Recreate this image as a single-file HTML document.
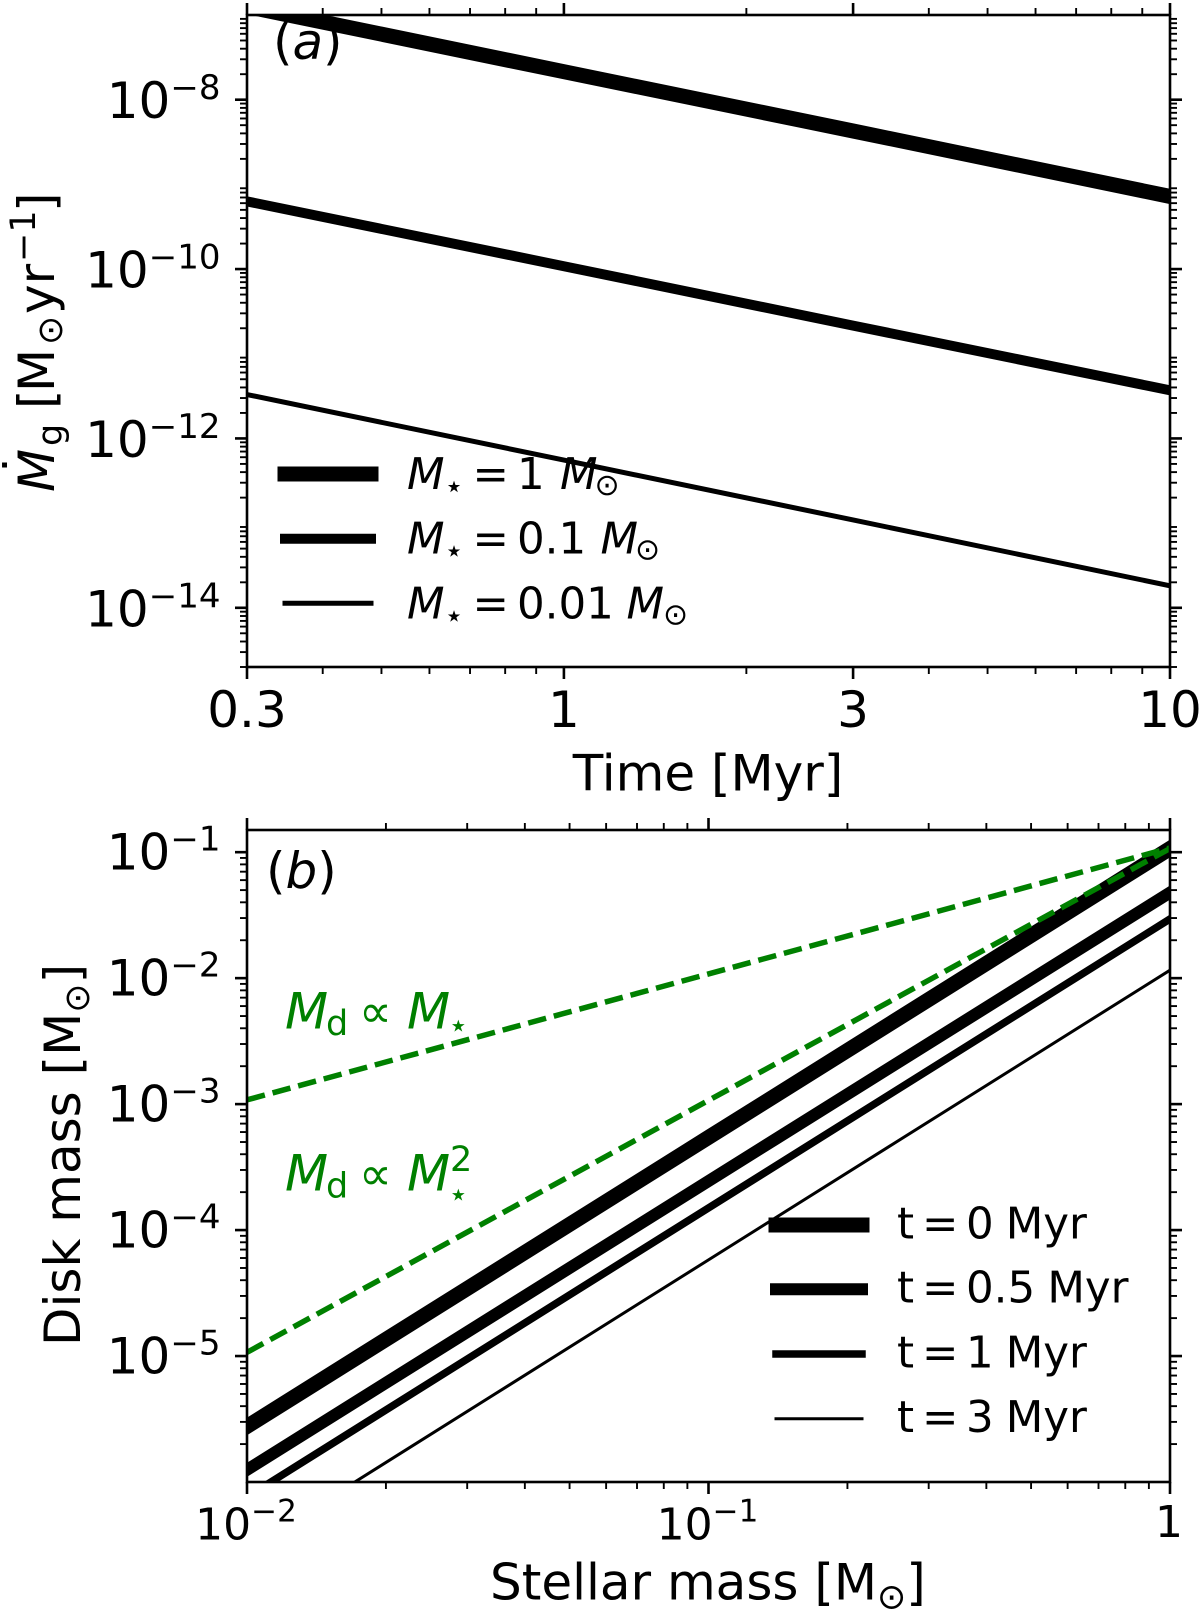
<!DOCTYPE html>
<html lang="en">
<head>
<meta charset="utf-8">
<title>Mass accretion rate and disk mass</title>
<style>
html,body{margin:0;padding:0;background:#fff;width:1200px;height:1610px;overflow:hidden}
svg{display:block}
text{font-family:"DejaVu Sans","Liberation Sans",sans-serif;fill:#000}
.leg{font-size:43.5px}
.it{font-style:italic}
.green,.green tspan{fill:#008000}
</style>
</head>
<body>
<svg id="figure" xmlns="http://www.w3.org/2000/svg" width="1200" height="1610" viewBox="0 0 1200 1610">
  <defs>
    <clipPath id="clip-a"><rect x="247" y="15" width="923" height="652"/></clipPath>
    <clipPath id="clip-b"><rect x="247" y="830" width="923" height="652"/></clipPath>
  </defs>
  <rect x="0" y="0" width="1200" height="1610" fill="#fff"/>

  <g id="panel-a">
    <g id="series-a" clip-path="url(#clip-a)"></g>
    <g id="ticks-a"></g>
    <rect x="247" y="15" width="923" height="652" fill="none" stroke="#000" stroke-width="2.6"/>
    <text font-size="50"><tspan x="273" y="59">(</tspan><tspan class="it" x="292.5" y="59">a</tspan><tspan x="323" y="59">)</tspan></text>
    <g id="legend-a">
      <text class="leg" y="489"><tspan class="it" x="407">M</tspan><tspan x="444" y="497" font-size="32">⋆</tspan><tspan x="472.5" y="489">=</tspan><tspan x="517" y="489">1</tspan><tspan class="it" x="560" y="489">M</tspan><tspan x="594.5" y="495" font-size="30">⊙</tspan></text>
      <text class="leg" y="553.7"><tspan class="it" x="407">M</tspan><tspan x="444" y="561.7" font-size="32">⋆</tspan><tspan x="472.5" y="553.7">=</tspan><tspan x="517" y="553.7">0.1</tspan><tspan class="it" x="600.5" y="553.7">M</tspan><tspan x="635" y="559.7" font-size="30">⊙</tspan></text>
      <text class="leg" y="618.3"><tspan class="it" x="407">M</tspan><tspan x="444" y="626.3" font-size="32">⋆</tspan><tspan x="472.5" y="618.3">=</tspan><tspan x="517" y="618.3">0.01</tspan><tspan class="it" x="626.5" y="618.3">M</tspan><tspan x="663" y="624.3" font-size="30">⊙</tspan></text>
    </g>
    <text x="708" y="790.7" font-size="50" text-anchor="middle">Time [Myr]</text>
    <g transform="translate(54,490) rotate(-90)">
      <text font-size="50"><tspan class="it" x="-2" y="0">M</tspan><tspan x="12.5" y="-14">˙</tspan><tspan x="44" y="8" font-size="35">g</tspan><tspan x="81" y="0">[</tspan><tspan x="98" y="0">M</tspan><tspan x="145" y="8" font-size="35">⊙</tspan><tspan x="176" y="0">y</tspan><tspan x="205.6" y="0">r</tspan><tspan x="228" y="-19" font-size="35">−1</tspan><tspan x="278" y="0">]</tspan></text>
    </g>
  </g>

  <g id="panel-b">
    <g id="series-b" clip-path="url(#clip-b)"></g>
    <g id="ticks-b"></g>
    <rect x="247" y="830" width="923" height="652" fill="none" stroke="#000" stroke-width="2.6"/>
    <text font-size="50"><tspan x="266" y="888">(</tspan><tspan class="it" x="285.5" y="888">b</tspan><tspan x="317.2" y="888">)</tspan></text>
    <text class="green" font-size="50"><tspan class="it" x="285" y="1028.3">M</tspan><tspan x="326" y="1035" font-size="35">d</tspan><tspan x="359" y="1027" font-size="46">∝</tspan><tspan class="it" x="407" y="1028.3">M</tspan><tspan x="448" y="1036.5" font-size="33">⋆</tspan></text>
    <text class="green" font-size="50"><tspan class="it" x="285" y="1190.7">M</tspan><tspan x="326" y="1197.4" font-size="35">d</tspan><tspan x="359" y="1189.4" font-size="46">∝</tspan><tspan class="it" x="407" y="1190.7">M</tspan><tspan x="450" y="1171" font-size="35">2</tspan><tspan x="448" y="1205.5" font-size="33">⋆</tspan></text>
    <g id="legend-b">
      <text class="leg"><tspan x="897" y="1238.3">t</tspan><tspan x="922" y="1238.3">=</tspan><tspan x="966" y="1238.3">0</tspan><tspan x="1005.7" y="1238.3">Myr</tspan></text>
      <text class="leg"><tspan x="897" y="1302.7">t</tspan><tspan x="922" y="1302.7">=</tspan><tspan x="966" y="1302.7">0.5</tspan><tspan x="1047.4" y="1302.7">Myr</tspan></text>
      <text class="leg"><tspan x="897" y="1367.3">t</tspan><tspan x="922" y="1367.3">=</tspan><tspan x="966" y="1367.3">1</tspan><tspan x="1005.7" y="1367.3">Myr</tspan></text>
      <text class="leg"><tspan x="897" y="1432">t</tspan><tspan x="922" y="1432">=</tspan><tspan x="966" y="1432">3</tspan><tspan x="1005.7" y="1432">Myr</tspan></text>
    </g>
    <text font-size="50" x="490" y="1599.3">Stellar mass [M<tspan font-size="35" dy="9">⊙</tspan><tspan dy="-9">]</tspan></text>
    <g transform="translate(80,1346) rotate(-90)">
      <text font-size="50" x="0" y="0">Disk mass [M<tspan font-size="35" dy="9">⊙</tspan><tspan dy="-9">]</tspan></text>
    </g>
  </g>
</svg>
<script>
// Panel (a): accretion rate vs time
const timeValues = [0.3, 1, 3, 10];
const accretionStar1 = [1.26e-7, 2.14e-8, 4.27e-9, 7.2e-10];
const accretionStar01 = [6.3e-10, 1.08e-10, 2.15e-11, 3.7e-12];
const accretionStar001 = [3.3e-12, 5.55e-13, 1.09e-13, 1.82e-14];
const timeMajorTicks = [0.3, 1, 3, 10];
const timeMajorLabels = ['0.3', '1', '3', '10'];
const timeMinorTicks = [0.4, 0.5, 0.6, 0.7, 0.8, 0.9, 2, 4, 5, 6, 7, 8, 9];
const accretionMajorTicks = [1e-8, 1e-10, 1e-12, 1e-14];
const accretionMajorLabels = ['−8', '−10', '−12', '−14'];
const accretionMinorDecades = [1e-15, 1e-14, 1e-13, 1e-12, 1e-11, 1e-10, 1e-9, 1e-8];

// Panel (b): disk mass vs stellar mass
const massValues = [0.01, 0.1, 1];
const diskT0 = [2.76e-6, 5.44e-4, 0.107];
const diskT05 = [1.25e-6, 2.45e-4, 0.0478];
const diskT1 = [7.6e-7, 1.5e-4, 0.0295];
const diskT3 = [2.9e-7, 5.8e-5, 0.01157];
const scalingLinear = [1.08e-3, 1.08e-2, 0.108];
const scalingQuadratic = [1.07e-5, 1.07e-3, 0.107];
const massMajorTicks = [0.01, 0.1, 1];
const massMajorLabels = ['−2', '−1', ''];
const massMinorDecades = [0.01, 0.1];
const diskMajorTicks = [1e-1, 1e-2, 1e-3, 1e-4, 1e-5];
const diskMajorLabels = ['−1', '−2', '−3', '−4', '−5'];
const diskMinorDecades = [1e-6, 1e-5, 1e-4, 1e-3, 1e-2, 1e-1];
const minorSubs = [2, 3, 4, 5, 6, 7, 8, 9];

const NS = 'http://www.w3.org/2000/svg';

function logAxis(min, max, pixelStart, pixelEnd) {
  return function (v) {
    return pixelStart + (Math.log10(v) - Math.log10(min)) / (Math.log10(max) - Math.log10(min)) * (pixelEnd - pixelStart);
  };
}

const panelA = { left: 247, right: 1170, top: 15, bottom: 667 };
const panelB = { left: 247, right: 1170, top: 830, bottom: 1482 };
const xA = logAxis(0.3, 10, panelA.left, panelA.right);
const yA = logAxis(2e-15, 1e-7, panelA.bottom, panelA.top);
const xB = logAxis(0.01, 1, panelB.left, panelB.right);
const yB = logAxis(1e-6, 0.15, panelB.bottom, panelB.top);

function drawSeries(parent, name, xs, ys, xScale, yScale, width, color, dash) {
  const el = document.createElementNS(NS, 'polyline');
  
  
  const pts = xs.map(function (x, i) { return xScale(x).toFixed(2) + ',' + yScale(ys[i]).toFixed(2); });
  el.setAttribute('points', pts.join(' '));
  el.setAttribute('fill', 'none');
  el.setAttribute('stroke', color);
  el.setAttribute('stroke-width', width);
  if (dash) {
    el.setAttribute('stroke-dasharray', dash);
    el.setAttribute('stroke-linecap', 'butt');
  } else {
    el.setAttribute('stroke-linecap', 'square');
  }
  parent.appendChild(el);
}

function drawLegendLine(parent, name, cx, cy, width) {
  const el = document.createElementNS(NS, 'line');
  
  
  el.setAttribute('x1', cx - 43);
  el.setAttribute('x2', cx + 43);
  el.setAttribute('y1', cy);
  el.setAttribute('y2', cy);
  el.setAttribute('stroke', '#000');
  el.setAttribute('stroke-width', width);
  el.setAttribute('stroke-linecap', 'square');
  parent.appendChild(el);
}

function drawXTick(parent, x, edgeY, dir, len, width) {
  const el = document.createElementNS(NS, 'line');
  
  
  el.setAttribute('x1', x.toFixed(2));
  el.setAttribute('x2', x.toFixed(2));
  el.setAttribute('y1', edgeY);
  el.setAttribute('y2', edgeY + dir * len);
  el.setAttribute('stroke', '#000');
  el.setAttribute('stroke-width', width);
  parent.appendChild(el);
}

function drawYTick(parent, y, edgeX, dir, len, width) {
  const el = document.createElementNS(NS, 'line');
  
  
  el.setAttribute('x1', edgeX);
  el.setAttribute('x2', edgeX + dir * len);
  el.setAttribute('y1', y.toFixed(2));
  el.setAttribute('y2', y.toFixed(2));
  el.setAttribute('stroke', '#000');
  el.setAttribute('stroke-width', width);
  parent.appendChild(el);
}

function drawFrameTicks(parent, panel, xScale, yScale, xMajor, xMinor, yMajor, yMinor) {
  xMajor.forEach(function (v) {
    drawXTick(parent, xScale(v), panel.bottom, 1, 12, 2.6);
    drawXTick(parent, xScale(v), panel.top, -1, 12, 2.6);
  });
  xMinor.forEach(function (v) {
    drawXTick(parent, xScale(v), panel.bottom, 1, 7, 1.9);
    drawXTick(parent, xScale(v), panel.top, -1, 7, 1.9);
  });
  yMajor.forEach(function (v) {
    drawYTick(parent, yScale(v), panel.left, -1, 12, 2.6);
    drawYTick(parent, yScale(v), panel.right, 1, 12, 2.6);
  });
  yMinor.forEach(function (v) {
    drawYTick(parent, yScale(v), panel.left, -1, 7, 1.9);
    drawYTick(parent, yScale(v), panel.right, 1, 7, 1.9);
  });
}

function expandMinor(decades, subs, lo, hi) {
  const out = [];
  decades.forEach(function (d) {
    subs.forEach(function (s) {
      const v = d * s;
      if (v >= lo * 0.999 && v <= hi * 1.001) out.push(v);
    });
  });
  return out;
}

function drawPowerLabel(parent, name, x, y, anchor, size, supSize, rise, exponent) {
  const el = document.createElementNS(NS, 'text');
  
  
  el.setAttribute('x', x.toFixed(2));
  el.setAttribute('y', y.toFixed(2));
  el.setAttribute('text-anchor', anchor);
  el.setAttribute('font-size', size);
  el.textContent = '10';
  const sup = document.createElementNS(NS, 'tspan');
  sup.setAttribute('font-size', supSize);
  sup.setAttribute('dy', -rise);
  sup.textContent = exponent;
  el.appendChild(sup);
  parent.appendChild(el);
}

function drawPlainLabel(parent, name, x, y, size, content) {
  const el = document.createElementNS(NS, 'text');
  
  
  el.setAttribute('x', x.toFixed(2));
  el.setAttribute('y', y);
  el.setAttribute('text-anchor', 'middle');
  el.setAttribute('font-size', size);
  el.textContent = content;
  parent.appendChild(el);
}

const seriesA = document.getElementById('series-a');
const seriesB = document.getElementById('series-b');
const ticksA = document.getElementById('ticks-a');
const ticksB = document.getElementById('ticks-b');
const legendA = document.getElementById('legend-a');
const legendB = document.getElementById('legend-b');

drawSeries(seriesA, 'line-star-1-msun', timeValues, accretionStar1, xA, yA, 15, '#000');
drawSeries(seriesA, 'line-star-0-1-msun', timeValues, accretionStar01, xA, yA, 10, '#000');
drawSeries(seriesA, 'line-star-0-01-msun', timeValues, accretionStar001, xA, yA, 5, '#000');

drawSeries(seriesB, 'line-t-0-myr', massValues, diskT0, xB, yB, 15, '#000');
drawSeries(seriesB, 'line-t-0-5-myr', massValues, diskT05, xB, yB, 12, '#000');
drawSeries(seriesB, 'line-t-1-myr', massValues, diskT1, xB, yB, 7.5, '#000');
drawSeries(seriesB, 'line-t-3-myr', massValues, diskT3, xB, yB, 3, '#000');
drawSeries(seriesB, 'scaling-linear-line', massValues, scalingLinear, xB, yB, 5.5, '#008000', '18.5 8');
drawSeries(seriesB, 'scaling-quadratic-line', massValues, scalingQuadratic, xB, yB, 5.5, '#008000', '18.5 8');

drawFrameTicks(ticksA, panelA, xA, yA, timeMajorTicks, timeMinorTicks, accretionMajorTicks,
  expandMinor(accretionMinorDecades, minorSubs, 2e-15, 1e-7));
const massMinor = expandMinor(massMinorDecades, minorSubs, 0.01, 1);
drawFrameTicks(ticksB, panelB, xB, yB, massMajorTicks, massMinor, diskMajorTicks,
  expandMinor(diskMinorDecades, minorSubs, 1e-6, 0.15));

timeMajorTicks.forEach(function (v, i) {
  drawPlainLabel(ticksA, 'x-tick-label', xA(v), 727, 50, timeMajorLabels[i]);
});
accretionMajorTicks.forEach(function (v, i) {
  drawPowerLabel(ticksA, 'y-tick-label', 220.5, yA(v) + 18.5, 'end', 50, 34, 19, accretionMajorLabels[i]);
});
massMajorTicks.forEach(function (v, i) {
  if (massMajorLabels[i]) {
    drawPowerLabel(ticksB, 'x-tick-label', xB(v) - 1, 1539.3, 'middle', 44, 31, 17.6, massMajorLabels[i]);
  } else {
    drawPlainLabel(ticksB, 'x-tick-label', xB(v) - 1, 1537, 44, '1');
  }
});
diskMajorTicks.forEach(function (v, i) {
  drawPowerLabel(ticksB, 'y-tick-label', 220.5, yB(v) + 17.5, 'end', 50, 34, 19, diskMajorLabels[i]);
});

drawLegendLine(legendA, 'legend-line-1-msun', 328, 474, 15);
drawLegendLine(legendA, 'legend-line-0-1-msun', 328, 538.7, 10);
drawLegendLine(legendA, 'legend-line-0-01-msun', 328, 603.3, 5);
drawLegendLine(legendB, 'legend-line-t0', 819, 1225, 15);
drawLegendLine(legendB, 'legend-line-t05', 819, 1289.3, 12);
drawLegendLine(legendB, 'legend-line-t1', 819, 1354, 7.5);
drawLegendLine(legendB, 'legend-line-t3', 819, 1418.7, 3);
</script>
</body>
</html>
